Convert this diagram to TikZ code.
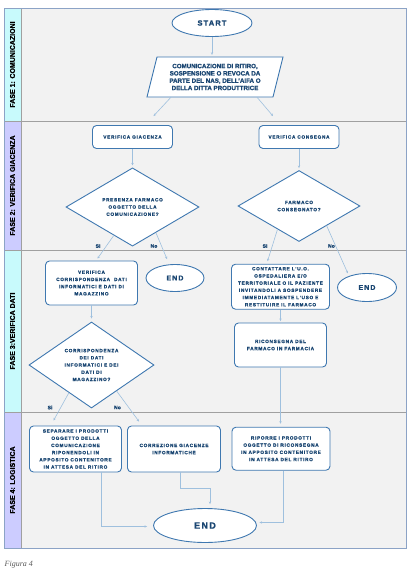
\documentclass[tikz,border=0pt]{standalone}
\usepackage{fontspec}
\setmainfont{Liberation Sans}[BoldFeatures={FakeBold=1.2}]
\newfontfamily\boxf{Liberation Sans}[LetterSpace=15,BoldFeatures={FakeBold=1.2}]
\newfontfamily\capf{Liberation Serif}
\usetikzlibrary{shapes.geometric,arrows.meta,calc}
\definecolor{txtblue}{HTML}{1A4672}
\definecolor{shpblue}{HTML}{3F78B0}
\definecolor{arrblue}{HTML}{9FC0DE}
\definecolor{lanebg}{HTML}{F2F2F2}
\definecolor{lanecyan}{HTML}{C8FAFC}
\definecolor{lanelav}{HTML}{CCCCFF}
\definecolor{frameblue}{HTML}{8CA3C6}
\definecolor{divgray}{HTML}{A0A0A0}
\begin{document}
\begin{tikzpicture}[x=1pt,y=-1pt,
  shp/.style={draw=shpblue, line width=0.9pt, fill=white},
  boxtxt/.style={text=txtblue, align=center, font=\boxf\bfseries\fontsize{4.7}{7.2}\selectfont},
  box/.style={shp, boxtxt, rectangle, rounded corners=4pt, inner sep=0pt},
  dia/.style={shp, boxtxt, diamond, inner sep=0pt},
  term/.style={shp, ellipse, inner sep=0pt, text=txtblue, font=\boxf\bfseries\fontsize{7}{8}\selectfont},
  arr/.style={draw=arrblue, line width=0.6pt, -{Stealth[length=2.6pt,width=2.4pt]}},
  lbl/.style={text=txtblue, font=\bfseries\fontsize{5}{6}\selectfont, inner sep=0pt},
  phase/.style={rotate=90, font=\bfseries\fontsize{7}{8}\selectfont, text=black, inner sep=0pt}
]
\useasboundingbox (0,0) rectangle (412,576);
% lanes
\fill[lanebg] (4,8) rectangle (406.5,548.5);
\fill[lanecyan] (4,8) rectangle (21,121);
\fill[lanelav] (4,121) rectangle (21,250);
\fill[lanecyan] (4,250) rectangle (21,412.5);
\fill[lanelav] (4,412.5) rectangle (21,548.5);
\draw[divgray, line width=0.9pt] (4,121) -- (406.5,121);
\draw[divgray, line width=0.9pt] (4,250) -- (406.5,250);
\draw[divgray, line width=0.9pt] (4,412.5) -- (406.5,412.5);
\draw[divgray, line width=0.6pt] (21,8) -- (21,548.5);
\draw[frameblue, line width=1pt] (4,8) rectangle (406.5,548.5);
\node[phase] (lab1) at (12.5,64.5) {FASE 1: COMUNICAZIONI};
\node[phase] (lab2) at (12.5,185.5) {FASE 2: VERIFICA GIACENZA};
\node[phase] (lab3) at (12.5,331) {FASE 3:VERIFICA DATI};
\node[phase] (lab4) at (12.5,480) {FASE 4: LOGISTICA};

% phase 1
\node[term, minimum width=80pt, minimum height=27pt, font=\boxf\bfseries\fontsize{7.5}{9}\selectfont] (start) at (212,23) {START};
\draw[shp] (157,57) -- (283,57) -- (273,97) -- (147,97) -- cycle;
\node[text=txtblue, align=center, font=\bfseries\fontsize{6.2}{7.3}\selectfont, minimum width=126pt, minimum height=40pt, inner sep=0pt] (comm) at (215,77) {COMUNICAZIONE DI RITIRO,\\SOSPENSIONE O REVOCA DA\\PARTE DEL NAS, DELL'AIFA O\\DELLA DITTA PRODUTTRICE};

% phase 2
\node[box, minimum width=80pt, minimum height=23pt] (giac) at (132.5,137) {VERIFICA GIACENZA};
\node[box, minimum width=80pt, minimum height=23pt] (cons) at (299,137) {VERIFICA CONSEGNA};
\node[dia, minimum width=133pt, minimum height=71pt] (d1) at (132.5,207) {PRESENZA FARMACO\\OGGETTO DELLA\\COMUNICAZIONE?};
\node[dia, minimum width=122pt, minimum height=71pt] (d2) at (299,206) {FARMACO\\CONSEGNATO?};

% phase 3
\node[box, minimum width=92pt, minimum height=44pt] (vcorr) at (91.5,283) {VERIFICA\\CORRISPONDENZA\ \ DATI\\INFORMATICI E DATI DI\\MAGAZZINO};
\node[term, minimum width=58pt, minimum height=27pt] (end1) at (175,278) {END};
\node[box, minimum width=98pt, minimum height=45pt] (cont) at (280.5,286.7) {CONTATTARE L'U.O.\\OSPEDALIERA E/O\\TERRITORIALE O IL PAZIENTE\\INVITANDOLI A SOSPENDERE\\IMMEDIATAMENTE L'USO E\\RESTITUIRE IL FARMACO};
\node[term, minimum width=59pt, minimum height=28pt] (end2) at (367,287.5) {END};
\node[box, minimum width=92pt, minimum height=44pt] (ricons) at (280.5,345) {RICONSEGNA DEL\\FARMACO IN FARMACIA};
\node[dia, minimum width=125pt, minimum height=77pt] (d3) at (91.5,365) {CORRISPONDENZA\\DEI DATI\\INFORMATICI E DEI\\DATI DI\\MAGAZZINO?};

% phase 4
\node[box, minimum width=92pt, minimum height=46pt] (sep) at (75.5,449) {SEPARARE I PRODOTTI\\OGGETTO DELLA\\COMUNICAZIONE\\RIPONENDOLI IN\\APPOSITO CONTENITORE\\IN ATTESA DEL RITIRO};
\node[box, minimum width=93pt, minimum height=46pt] (corr) at (174,449) {CORREZIONE GIACENZE\\INFORMATICHE};
\node[box, minimum width=98pt, minimum height=43pt] (rip) at (281,448.7) {RIPORRE I PRODOTTI\\OGGETTO DI RICONSEGNA\\IN APPOSITO CONTENITORE\\IN ATTESA DEL RITIRO};
\node[term, minimum width=103pt, minimum height=34pt, font=\boxf\bfseries\fontsize{9}{10}\selectfont] (endF) at (205,525.5) {END};

% labels
\node[lbl] (si1) at (98,246) {Si};
\node[lbl] (no1) at (154,246) {No};
\node[lbl] (si2) at (265,246) {Si};
\node[lbl] (no2) at (331.5,246) {No};
\node[lbl] (si3) at (50,407.5) {Si};
\node[lbl] (no3) at (117.5,407.5) {No};

% connectors
\draw[arr, shorten >=2pt] (start.south) -- (start.south |- comm.north);
\draw[arr] ([xshift=-44pt]comm.south) -- ([xshift=21pt,yshift=9pt]giac.north);
\draw[arr] ([xshift=42pt]comm.south) -- ([xshift=-26pt,yshift=9pt]cons.north);
\draw[arr, shorten >=2pt] (giac.south) -- (d1.north);
\draw[arr, shorten >=2pt] (cons.south) -- (d2.north);
\draw[arr] ($(d1.south)!0.28!(d1.west)$) -- ([xshift=6pt,yshift=2pt]vcorr.north);
\draw[arr] ($(d1.south)!0.35!(d1.east)$) -- ([xshift=-8pt,yshift=5pt]end1.north);
\draw[arr] ($(d2.south)!0.35!(d2.west)$) -- ([xshift=-13pt,yshift=2.5pt]cont.north);
\draw[arr] ($(d2.south)!0.45!(d2.east)$) -- ([xshift=2pt,yshift=4pt]end2.north west);
\draw[arr, shorten >=1.5pt] (cont.south) -- (ricons.north);
\draw[arr, shorten >=3pt] (ricons.south) -- (ricons.south |- rip.north);
\draw[arr, shorten >=3pt] (vcorr.south) -- (d3.north);
\draw[arr] ($(d3.south)!0.36!(d3.west)$) -- ([xshift=-22pt,yshift=5pt]sep.north);
\draw[arr] ($(d3.south)!0.4!(d3.east)$) -- ([xshift=12pt,yshift=4pt]corr.north west);
\draw[arr] ([xshift=26pt]sep.south) |- ([xshift=-6pt,yshift=-1pt]endF.west);
\draw[arr] ([xshift=6pt]corr.south) -- ++(0,15.5) -| ([xshift=5pt,yshift=4pt]endF.north);
\draw[arr] ([xshift=2pt]rip.south) |- ([xshift=2.5pt,yshift=3pt]endF.east);

\node[font=\capf\itshape\fontsize{8}{9}\selectfont, text=black!65, anchor=west, inner sep=0pt] (cap) at (4.5,565) {Figura 4};
\end{tikzpicture}
\end{document}
